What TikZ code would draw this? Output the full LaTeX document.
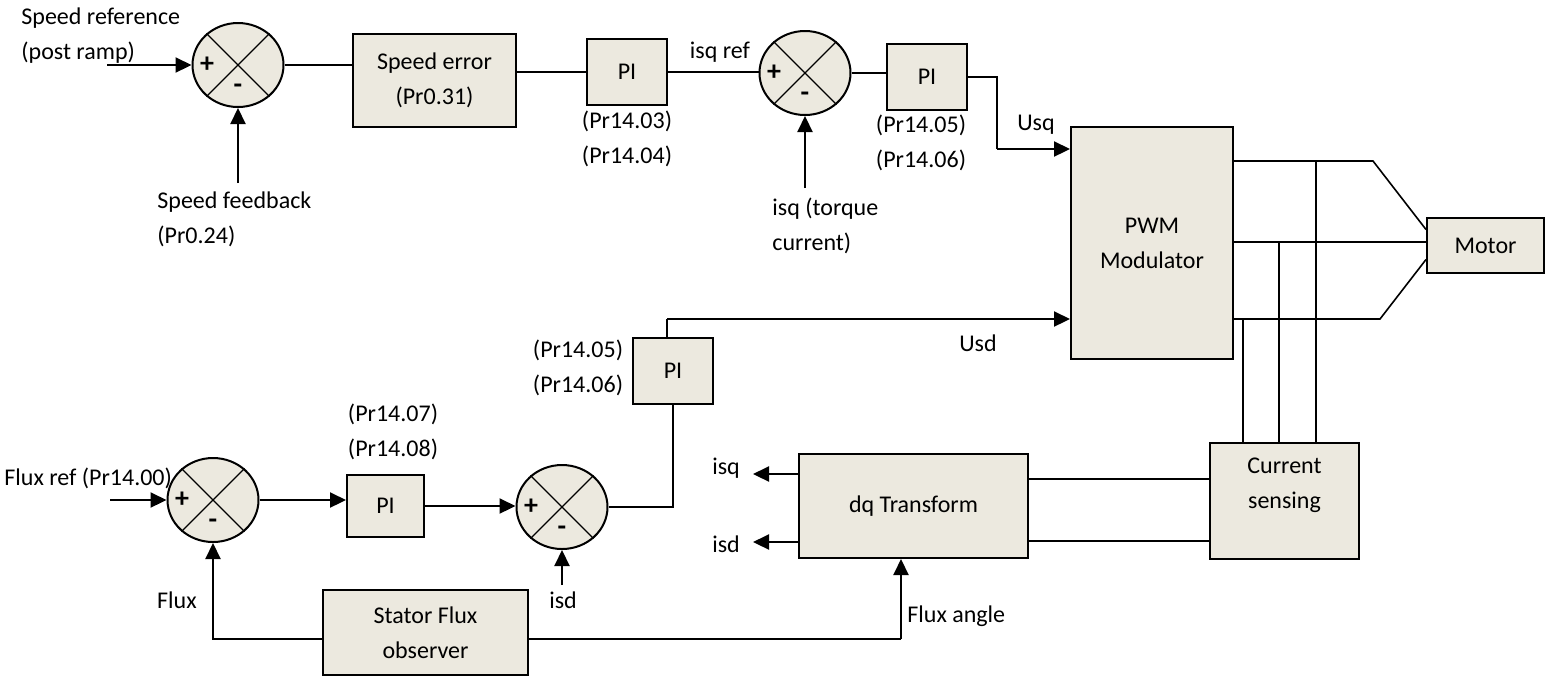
\documentclass[tikz,border=0pt]{standalone}
\usepackage{fontspec}
\setmainfont{Carlito}
\usetikzlibrary{arrows.meta,shapes.geometric}
\definecolor{boxfill}{RGB}{236,233,223}

\begin{document}
\begin{tikzpicture}[x=0.5pt, y=-0.5pt, >={Triangle[length=8pt,width=7.5pt]},
  font=\fontsize{12}{17.5}\selectfont,
  blk/.style={draw, line width=1pt, fill=boxfill, inner sep=0pt, align=center},
  sumjn/.style={draw, ellipse, line width=1pt, fill=boxfill, minimum width=45.5pt, minimum height=42pt, inner sep=0pt},
  sgn/.style={inner sep=0pt, font=\fontsize{14}{14}\selectfont\bfseries},
  sig/.style={->, line width=1.1pt},
  wire/.style={line width=0.6pt},
  lbl/.style={inner sep=0pt, align=center}]

\useasboundingbox (0,0) rectangle (1553,677);

% summing junctions
\node[sumjn] (s1) at (238,65) {};
\node[sumjn] (s2) at (805,73) {};
\node[sumjn] (s3) at (213,500) {};
\node[sumjn] (s4) at (562,507) {};
\foreach \s in {s1,s2,s3,s4} {
  \draw[line width=0.65pt] (\s.45) -- (\s.-135) (\s.135) -- (\s.-45);
  \node[sgn] (\s-plus) at ([xshift=-15.5pt]\s.center) {+};
  \node[sgn] (\s-minus) at ([yshift=-12pt]\s.center) {-};
}

% blocks
\node[blk, minimum width=81.5pt, minimum height=46.5pt] (err) at (434.5,80.5) {Speed error\\(Pr0.31)};
\node[blk, minimum width=40pt, minimum height=33pt] (pi1) at (627,72) {PI};
\node[blk, minimum width=40pt, minimum height=33pt] (pi2) at (927,77) {PI};
\node[blk, minimum width=81pt, minimum height=116pt] (pwm) at (1152,243) {PWM\\Modulator};
\node[blk, minimum width=58.5pt, minimum height=27.5pt] (motor) at (1485.5,245.5) {Motor};
\node[blk, minimum width=74.5pt, minimum height=58pt] (cs) at (1284.5,501) {Current\\sensing\\\mbox{}};
\node[blk, minimum width=114.5pt, minimum height=52pt] (dq) at (913.5,506) {dq Transform};
\node[blk, minimum width=102.5pt, minimum height=42.5pt] (obs) at (425.5,632.5) {Stator Flux\\observer};
\node[blk, minimum width=38.5pt, minimum height=31pt] (pi3) at (385.5,506) {PI};
\node[blk, minimum width=40pt, minimum height=33pt] (pi4) at (673,371) {PI};

% labels
\node[lbl, anchor=west, align=left] (spdref) at (21,35.5) {Speed reference\\(post ramp)};
\node[lbl, anchor=west, align=left] (spdfb) at (157,219.5) {Speed feedback\\(Pr0.24)};
\node[lbl] (pi1par) at (627,138.5) {(Pr14.03)\\(Pr14.04)};
\node[lbl] (isqref) at (720,52) {isq ref};
\node[lbl, anchor=west, align=left] (isqin) at (772,226) {isq (torque\\current)};
\node[lbl] (pi2par) at (921,142.5) {(Pr14.05)\\(Pr14.06)};
\node[lbl] (usq) at (1036,125) {Usq};
\node[lbl] (usd) at (978,343) {Usd};
\node[lbl] (pi4par) at (578,368) {(Pr14.05)\\(Pr14.06)};
\node[lbl] (pi3par) at (393,432) {(Pr14.07)\\(Pr14.08)};
\node[lbl, anchor=west] (fluxref) at (4,478) {Flux ref (Pr14.00)};
\node[lbl] (flux) at (177,600) {Flux};
\node[lbl] (isdin) at (563,600) {isd};
\node[lbl, anchor=west] (fluxang) at (907,616) {Flux angle};
\node[lbl] (isqout) at (726,468) {isq};
\node[lbl] (isdout) at (726,544) {isd};

% free ends and bends
\coordinate (spdin) at (107,65);
\coordinate (fbin) at (238,183);
\coordinate (isqfrom) at (805,188);
\coordinate (uqbend) at (997,149);
\coordinate (udbend) at (667,319);
\coordinate (ph1) at (1233,161);
\coordinate (ph2) at (1233,242);
\coordinate (ph3) at (1233,319);
\coordinate (isqend) at (753,474);
\coordinate (isdend) at (753,542);
\coordinate (fa) at (901,639);
\coordinate (fluxin) at (110,500);
\coordinate (isdfrom) at (562,585);

% speed loop
\draw[sig] (spdin) -- (s1.west);
\draw[sig] (fbin) -- (s1.south);
\draw[wire] (s1.east) -- (s1.east -| err.west);
\draw[wire] (err.east |- pi1.west) -- (pi1.west);
\draw[wire] (pi1.east) -- (pi1.east -| s2.west);
\draw[sig] (isqfrom) -- (s2.south);
\draw[wire] (s2.east) -- (s2.east -| pi2.west);
\draw[wire] (pi2.east) -| (uqbend);
\draw[sig] (uqbend) -- (uqbend -| pwm.west);

% flux loop
\draw[sig] (fluxin) -- (s3.west);
\draw[sig] (s3.east) -- (s3.east -| pi3.west);
\draw[sig] (pi3.east) -- (pi3.east -| s4.west);
\draw[sig] (isdfrom) -- (s4.south);
\draw[wire] (s4.east) -| (pi4.south);
\draw[wire] (pi4.north -| udbend) -- (udbend);
\draw[sig] (udbend) -- (udbend -| pwm.west);

% motor phases and current taps
\draw[wire, line width=0.8pt] (ph1) -- (1373,161) -- ([yshift=8pt]motor.west);
\draw[wire, line width=0.8pt] (ph2) -- (ph2 -| motor.west);
\draw[wire, line width=0.8pt] (ph3) -- (1380,319) -- ([yshift=-7pt]motor.west);
\draw[wire, line width=0.8pt] (1316,161) -- (1316,161 |- cs.north);
\draw[wire, line width=0.8pt] (1279,242) -- (1279,242 |- cs.north);
\draw[wire, line width=0.8pt] (1243,319) -- (1243,319 |- cs.north);

% current sensing to dq
\draw[wire, line width=0.8pt] ([yshift=13.5pt]dq.east) -- ([yshift=13.5pt]dq.east -| cs.west);
\draw[wire, line width=0.8pt] ([yshift=-17.5pt]dq.east) -- ([yshift=-17.5pt]dq.east -| cs.west);
\draw[sig] (isqend -| dq.west) -- (isqend);
\draw[sig] (isdend -| dq.west) -- (isdend);

% observer feedback
\draw[wire, line width=0.8pt] (obs.east |- fa) -- (fa);
\draw[sig] (fa) -- (fa |- dq.south);
\draw[sig] (obs.west |- fa) -| (s3.south);
\end{tikzpicture}
\end{document}
